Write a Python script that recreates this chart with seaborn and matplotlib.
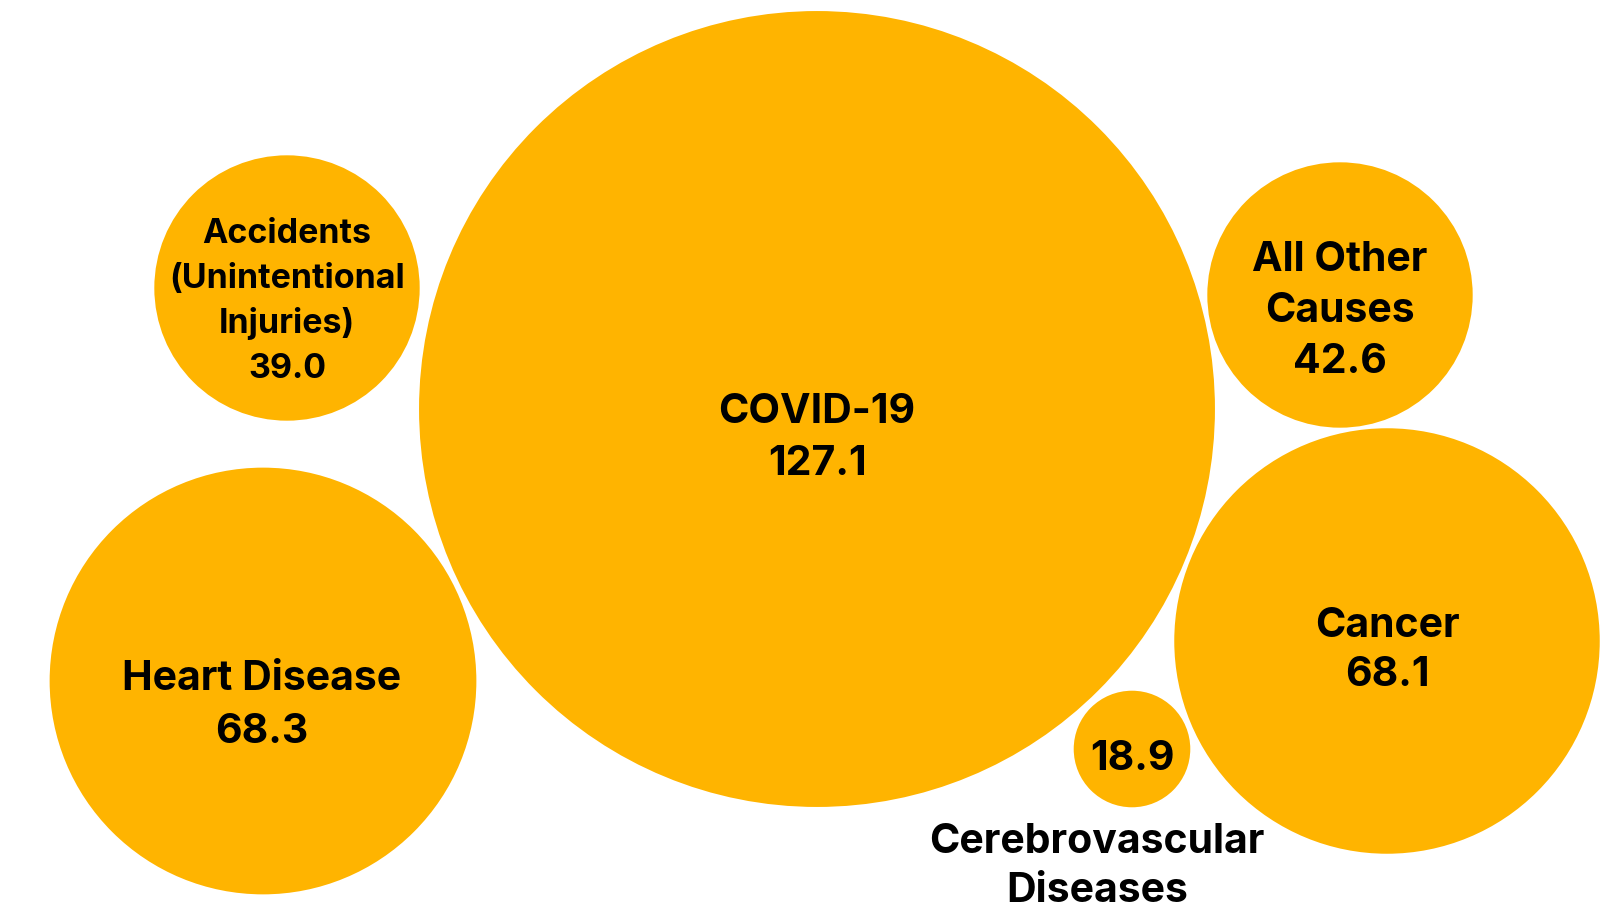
import pandas as pd
import matplotlib.pyplot as plt
import seaborn as sns

# Death rates per 100,000 (values shown on the bubbles)
causes = ['COVID-19', 'Heart Disease', 'Cancer', 'All Other Causes',
          'Accidents (Unintentional Injuries)', 'Cerebrovascular Diseases']
rates = [127.1, 68.3, 68.1, 42.6, 39.0, 18.9]
# bubble size as drawn in the picture (Accidents is drawn the same size as All Other)
bubble_size = [127.1, 68.3, 68.1, 42.6, 42.6, 18.9]
label_lines = [
    ['COVID-19'],
    ['Heart Disease'],
    ['Cancer'],
    ['All Other', 'Causes'],
    ['Accidents', '(Unintentional', 'Injuries)'],
    ['Cerebrovascular', 'Diseases'],
]

# layout (pixel coords of the 1613x908 canvas)
centers = [(817, 409), (263, 681), (1387, 641), (1340, 295), (287, 288), (1132, 749)]
label_pos = [  # x, first baseline, line step, font size
    (817, 423, 52, 29.5),
    (262, 690, 53, 29.5),
    (1387, 637, 49, 29.5),
    (1340, 271, 51, 29.5),
    (287, 243, 45, 24.5),
    (1097, 853, 49, 29.5),
]
COLOR = '#FFB400'
DPI = 100
W, H = 1613, 908
px_per_unit = 399 / 127.1

sns.set_theme(style='white')
plt.rcParams['font.family'] = ['Inter', 'DejaVu Sans']

fig = plt.figure(figsize=(W / DPI, H / DPI), dpi=DPI)
ax = fig.add_axes([0, 0, 1, 1])

df = pd.DataFrame({
    'cause': causes,
    'x': [c[0] for c in centers],
    'y': [c[1] for c in centers],
    'size': bubble_size,
})
# marker area in points^2 so that the radius in pixels is size * px_per_unit
sizes = {c: (2 * s * px_per_unit * 72 / DPI) ** 2 for c, s in zip(causes, bubble_size)}
sns.scatterplot(data=df, x='x', y='y', size='cause', sizes=sizes, color=COLOR,
                edgecolor='white', linewidth=1.5, legend=False, ax=ax)

ax.set_xlim(0, W)
ax.set_ylim(H, 0)
ax.set_axis_off()

for lines, rate, (lx, ly, step, fs) in zip(label_lines, rates, label_pos):
    if lines[0] == 'Cerebrovascular':
        cx, cy = centers[causes.index('Cerebrovascular Diseases')]
        ax.text(cx, 770, f'{rate:.1f}', ha='center', va='baseline',
                fontsize=fs, fontweight='bold', color='black')
        all_lines = lines
    else:
        all_lines = lines + [f'{rate:.1f}']
    for i, t in enumerate(all_lines):
        ax.text(lx, ly + i * step, t, ha='center', va='baseline',
                fontsize=fs, fontweight='bold', color='black')

fig.savefig('out.png', dpi=DPI, facecolor='white')
